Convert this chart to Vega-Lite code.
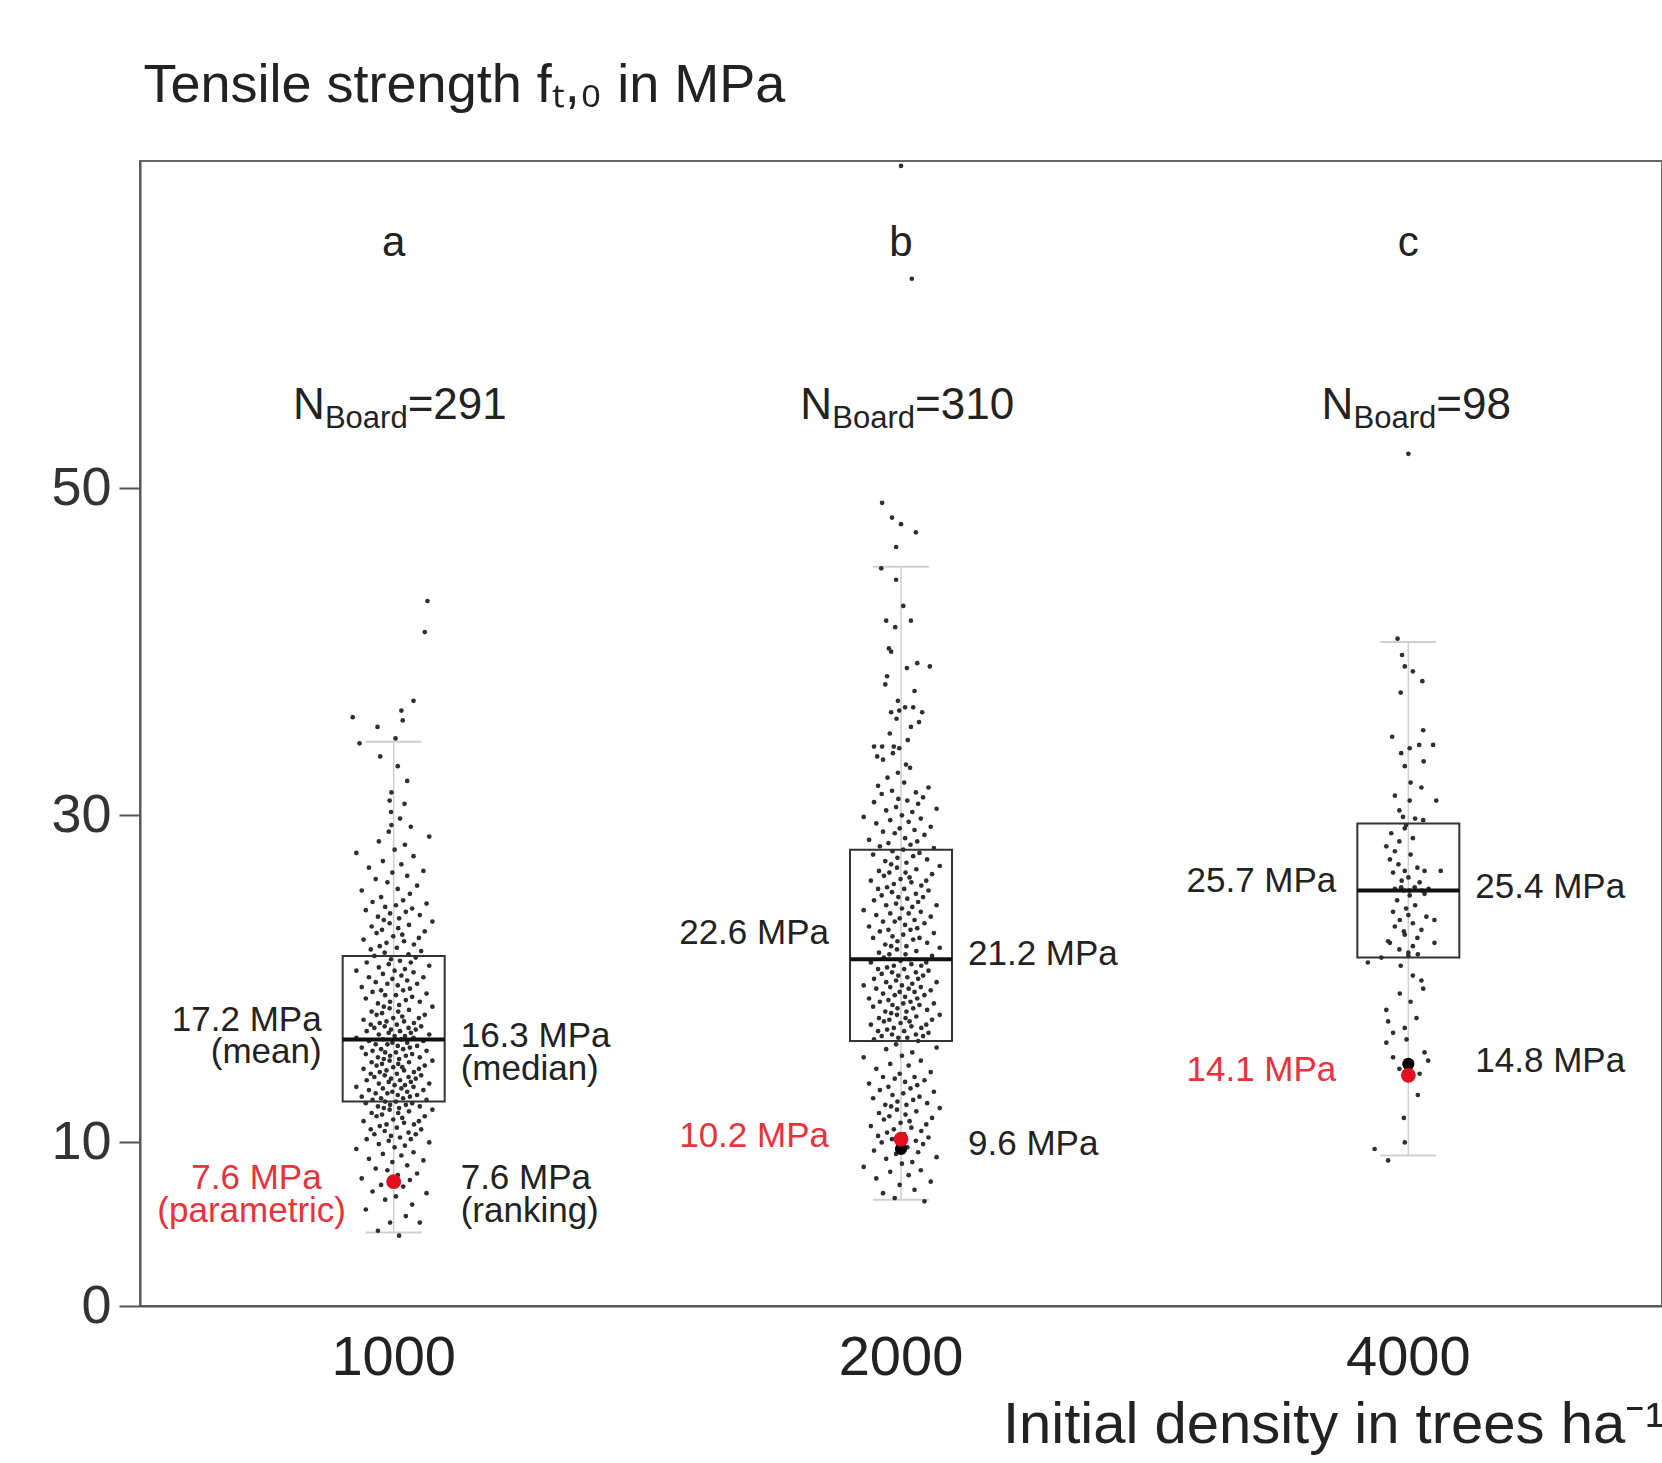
{
"$schema":"https://vega.github.io/schema/vega-lite/v6.json",
"autosize":"none",
"width":1522,"height":1145,
"padding":{"left":140,"top":161,"right":0,"bottom":157},
"background":"white",
"config":{"view":{"stroke":"#666","strokeWidth":2},"font":"Liberation Sans","text":{"font":"Liberation Sans"},"axis":{"labelFont":"Liberation Sans","titleFont":"Liberation Sans"}},
"datasets":{
"box":[{"g":"1000","wlo":4.5,"q1":12.5,"med":16.3,"q3":21.4,"whi":34.5},{"g":"2000","wlo":6.5,"q1":16.2,"med":21.2,"q3":27.9,"whi":45.2},{"g":"4000","wlo":9.2,"q1":21.3,"med":25.4,"q3":29.5,"whi":40.6}],
"est":[{"g":"1000","par":7.6,"rank":7.6},{"g":"2000","par":10.2,"rank":9.6},{"g":"4000","par":14.1,"rank":14.8}],
"grp":[{"g":"1000","l":"a","n":"=291"},{"g":"2000","l":"b","n":"=310"},{"g":"4000","l":"c","n":"=98"}],
"ann":[
{"g":"1000","stat":"mean","v":17.5,"t":"17.2 MPa"},{"g":"1000","stat":"mean","v":15.5,"t":"(mean)"},
{"g":"1000","stat":"median","v":16.5,"t":"16.3 MPa"},{"g":"1000","stat":"median","v":14.5,"t":"(median)"},
{"g":"1000","stat":"parametric","v":7.8,"t":"7.6 MPa"},{"g":"1000","stat":"parametric","v":5.8,"t":"(parametric)"},
{"g":"1000","stat":"ranking","v":7.8,"t":"7.6 MPa"},{"g":"1000","stat":"ranking","v":5.8,"t":"(ranking)"},
{"g":"2000","stat":"mean","v":22.8,"t":"22.6 MPa"},{"g":"2000","stat":"median","v":21.5,"t":"21.2 MPa"},
{"g":"2000","stat":"parametric","v":10.4,"t":"10.2 MPa"},{"g":"2000","stat":"ranking","v":9.9,"t":"9.6 MPa"},
{"g":"4000","stat":"mean","v":26.0,"t":"25.7 MPa"},{"g":"4000","stat":"median","v":25.6,"t":"25.4 MPa"},
{"g":"4000","stat":"parametric","v":14.4,"t":"14.1 MPa"},{"g":"4000","stat":"ranking","v":15.0,"t":"14.8 MPa"}],
"pts":[
{"g":"1000","v":4.3,"j":0.12},{"g":"1000","v":4.6,"j":-0.35},{"g":"1000","v":5.1,"j":0.58},{"g":"1000","v":5.1,"j":-0.08},{"g":"1000","v":5.5,"j":0.27},{"g":"1000","v":5.9,"j":-0.62},{"g":"1000","v":6.2,"j":0.41},{"g":"1000","v":6.5,"j":-0.19},{"g":"1000","v":6.7,"j":0.05},{"g":"1000","v":6.9,"j":0.73},
{"g":"1000","v":7.0,"j":-0.47},{"g":"1000","v":7.3,"j":0.21},{"g":"1000","v":7.4,"j":-0.28},{"g":"1000","v":7.7,"j":0.36},{"g":"1000","v":7.8,"j":-0.71},{"g":"1000","v":8.0,"j":0.09},{"g":"1000","v":8.1,"j":0.52},{"g":"1000","v":8.3,"j":-0.14},{"g":"1000","v":8.4,"j":-0.40},{"g":"1000","v":8.6,"j":0.30},
{"g":"1000","v":8.8,"j":-0.03},{"g":"1000","v":8.9,"j":0.66},{"g":"1000","v":9.0,"j":-0.55},{"g":"1000","v":9.2,"j":0.17},{"g":"1000","v":9.3,"j":-0.24},{"g":"1000","v":9.4,"j":0.44},{"g":"1000","v":9.6,"j":-0.83},{"g":"1000","v":9.7,"j":0.02},{"g":"1000","v":9.8,"j":0.25},{"g":"1000","v":9.9,"j":-0.33},
{"g":"1000","v":10.0,"j":0.79},{"g":"1000","v":10.1,"j":-0.11},{"g":"1000","v":10.2,"j":0.38},{"g":"1000","v":10.2,"j":-0.60},{"g":"1000","v":10.3,"j":0.14},{"g":"1000","v":10.4,"j":-0.06},{"g":"1000","v":10.5,"j":0.49},{"g":"1000","v":10.5,"j":-0.43},{"g":"1000","v":10.6,"j":0.33},{"g":"1000","v":10.7,"j":-0.20},
{"g":"1000","v":10.8,"j":0.61},{"g":"1000","v":10.8,"j":-0.51},{"g":"1000","v":10.9,"j":0.07},{"g":"1000","v":11.0,"j":-0.31},{"g":"1000","v":11.1,"j":0.45},{"g":"1000","v":11.1,"j":-0.16},{"g":"1000","v":11.2,"j":0.23},{"g":"1000","v":11.3,"j":-0.67},{"g":"1000","v":11.3,"j":0.56},{"g":"1000","v":11.4,"j":-0.01},
{"g":"1000","v":11.5,"j":0.19},{"g":"1000","v":11.6,"j":-0.38},{"g":"1000","v":11.6,"j":0.69},{"g":"1000","v":11.7,"j":-0.26},{"g":"1000","v":11.8,"j":0.10},{"g":"1000","v":11.8,"j":-0.49},{"g":"1000","v":11.9,"j":0.34},{"g":"1000","v":12.0,"j":-0.09},{"g":"1000","v":12.0,"j":0.86},{"g":"1000","v":12.1,"j":-0.22},
{"g":"1000","v":12.1,"j":0.12},{"g":"1000","v":12.2,"j":-0.35},{"g":"1000","v":12.2,"j":0.58},{"g":"1000","v":12.3,"j":-0.08},{"g":"1000","v":12.3,"j":0.27},{"g":"1000","v":12.4,"j":-0.62},{"g":"1000","v":12.4,"j":0.41},{"g":"1000","v":12.5,"j":-0.19},{"g":"1000","v":12.5,"j":0.05},{"g":"1000","v":12.6,"j":0.73},
{"g":"1000","v":12.6,"j":-0.47},{"g":"1000","v":12.7,"j":0.21},{"g":"1000","v":12.7,"j":-0.28},{"g":"1000","v":12.8,"j":0.36},{"g":"1000","v":12.8,"j":-0.71},{"g":"1000","v":12.9,"j":0.09},{"g":"1000","v":12.9,"j":0.52},{"g":"1000","v":13.0,"j":-0.14},{"g":"1000","v":13.0,"j":-0.40},{"g":"1000","v":13.1,"j":0.30},
{"g":"1000","v":13.1,"j":-0.03},{"g":"1000","v":13.2,"j":0.66},{"g":"1000","v":13.2,"j":-0.55},{"g":"1000","v":13.3,"j":0.17},{"g":"1000","v":13.3,"j":-0.24},{"g":"1000","v":13.4,"j":0.44},{"g":"1000","v":13.4,"j":-0.83},{"g":"1000","v":13.5,"j":0.02},{"g":"1000","v":13.5,"j":0.25},{"g":"1000","v":13.6,"j":-0.33},
{"g":"1000","v":13.6,"j":0.79},{"g":"1000","v":13.7,"j":-0.11},{"g":"1000","v":13.7,"j":0.38},{"g":"1000","v":13.8,"j":-0.60},{"g":"1000","v":13.8,"j":0.14},{"g":"1000","v":13.9,"j":-0.06},{"g":"1000","v":13.9,"j":0.49},{"g":"1000","v":14.0,"j":-0.43},{"g":"1000","v":14.0,"j":0.33},{"g":"1000","v":14.1,"j":-0.20},
{"g":"1000","v":14.1,"j":0.61},{"g":"1000","v":14.2,"j":-0.51},{"g":"1000","v":14.2,"j":0.07},{"g":"1000","v":14.3,"j":-0.31},{"g":"1000","v":14.3,"j":0.45},{"g":"1000","v":14.4,"j":-0.16},{"g":"1000","v":14.4,"j":0.23},{"g":"1000","v":14.5,"j":-0.67},{"g":"1000","v":14.5,"j":0.56},{"g":"1000","v":14.6,"j":-0.01},
{"g":"1000","v":14.6,"j":0.19},{"g":"1000","v":14.7,"j":-0.38},{"g":"1000","v":14.7,"j":0.69},{"g":"1000","v":14.8,"j":-0.26},{"g":"1000","v":14.8,"j":0.10},{"g":"1000","v":14.9,"j":-0.49},{"g":"1000","v":14.9,"j":0.34},{"g":"1000","v":15.0,"j":-0.09},{"g":"1000","v":15.0,"j":0.86},{"g":"1000","v":15.1,"j":-0.22},
{"g":"1000","v":15.1,"j":0.12},{"g":"1000","v":15.2,"j":-0.35},{"g":"1000","v":15.2,"j":0.58},{"g":"1000","v":15.3,"j":-0.08},{"g":"1000","v":15.3,"j":0.27},{"g":"1000","v":15.4,"j":-0.62},{"g":"1000","v":15.4,"j":0.41},{"g":"1000","v":15.5,"j":-0.19},{"g":"1000","v":15.5,"j":0.05},{"g":"1000","v":15.6,"j":0.73},
{"g":"1000","v":15.6,"j":-0.47},{"g":"1000","v":15.7,"j":0.21},{"g":"1000","v":15.7,"j":-0.28},{"g":"1000","v":15.8,"j":0.36},{"g":"1000","v":15.8,"j":-0.71},{"g":"1000","v":15.9,"j":0.09},{"g":"1000","v":15.9,"j":0.52},{"g":"1000","v":16.0,"j":-0.14},{"g":"1000","v":16.0,"j":-0.40},{"g":"1000","v":16.1,"j":0.30},
{"g":"1000","v":16.1,"j":-0.03},{"g":"1000","v":16.2,"j":0.66},{"g":"1000","v":16.2,"j":-0.55},{"g":"1000","v":16.3,"j":0.17},{"g":"1000","v":16.3,"j":-0.24},{"g":"1000","v":16.4,"j":0.44},{"g":"1000","v":16.4,"j":-0.83},{"g":"1000","v":16.5,"j":0.02},{"g":"1000","v":16.5,"j":0.25},{"g":"1000","v":16.6,"j":-0.33},
{"g":"1000","v":16.6,"j":0.79},{"g":"1000","v":16.7,"j":-0.11},{"g":"1000","v":16.7,"j":0.38},{"g":"1000","v":16.8,"j":-0.60},{"g":"1000","v":16.8,"j":0.14},{"g":"1000","v":16.9,"j":-0.06},{"g":"1000","v":16.9,"j":0.49},{"g":"1000","v":17.0,"j":-0.43},{"g":"1000","v":17.0,"j":0.33},{"g":"1000","v":17.1,"j":-0.20},
{"g":"1000","v":17.1,"j":0.61},{"g":"1000","v":17.2,"j":-0.51},{"g":"1000","v":17.2,"j":0.07},{"g":"1000","v":17.3,"j":-0.31},{"g":"1000","v":17.3,"j":0.45},{"g":"1000","v":17.4,"j":-0.16},{"g":"1000","v":17.4,"j":0.23},{"g":"1000","v":17.5,"j":-0.67},{"g":"1000","v":17.6,"j":0.56},{"g":"1000","v":17.6,"j":-0.01},
{"g":"1000","v":17.7,"j":0.19},{"g":"1000","v":17.8,"j":-0.38},{"g":"1000","v":17.8,"j":0.69},{"g":"1000","v":17.9,"j":-0.26},{"g":"1000","v":18.0,"j":0.10},{"g":"1000","v":18.0,"j":-0.49},{"g":"1000","v":18.1,"j":0.34},{"g":"1000","v":18.2,"j":-0.09},{"g":"1000","v":18.3,"j":0.86},{"g":"1000","v":18.3,"j":-0.22},
{"g":"1000","v":18.4,"j":0.12},{"g":"1000","v":18.5,"j":-0.35},{"g":"1000","v":18.6,"j":0.58},{"g":"1000","v":18.6,"j":-0.08},{"g":"1000","v":18.7,"j":0.27},{"g":"1000","v":18.8,"j":-0.62},{"g":"1000","v":18.9,"j":0.41},{"g":"1000","v":19.0,"j":-0.19},{"g":"1000","v":19.0,"j":0.05},{"g":"1000","v":19.1,"j":0.73},
{"g":"1000","v":19.2,"j":-0.47},{"g":"1000","v":19.3,"j":0.21},{"g":"1000","v":19.3,"j":-0.28},{"g":"1000","v":19.4,"j":0.36},{"g":"1000","v":19.5,"j":-0.71},{"g":"1000","v":19.6,"j":0.09},{"g":"1000","v":19.7,"j":0.52},{"g":"1000","v":19.7,"j":-0.14},{"g":"1000","v":19.8,"j":-0.40},{"g":"1000","v":19.9,"j":0.30},
{"g":"1000","v":20.0,"j":-0.03},{"g":"1000","v":20.1,"j":0.66},{"g":"1000","v":20.1,"j":-0.55},{"g":"1000","v":20.2,"j":0.17},{"g":"1000","v":20.3,"j":-0.24},{"g":"1000","v":20.4,"j":0.44},{"g":"1000","v":20.5,"j":-0.83},{"g":"1000","v":20.5,"j":0.02},{"g":"1000","v":20.6,"j":0.25},{"g":"1000","v":20.7,"j":-0.33},
{"g":"1000","v":20.8,"j":0.79},{"g":"1000","v":20.9,"j":-0.11},{"g":"1000","v":21.0,"j":0.38},{"g":"1000","v":21.0,"j":-0.60},{"g":"1000","v":21.1,"j":0.14},{"g":"1000","v":21.2,"j":-0.06},{"g":"1000","v":21.3,"j":0.49},{"g":"1000","v":21.4,"j":-0.43},{"g":"1000","v":21.5,"j":0.33},{"g":"1000","v":21.6,"j":-0.20},
{"g":"1000","v":21.7,"j":0.61},{"g":"1000","v":21.8,"j":-0.51},{"g":"1000","v":21.9,"j":0.07},{"g":"1000","v":22.0,"j":-0.31},{"g":"1000","v":22.1,"j":0.45},{"g":"1000","v":22.2,"j":-0.16},{"g":"1000","v":22.3,"j":0.23},{"g":"1000","v":22.4,"j":-0.67},{"g":"1000","v":22.5,"j":0.56},{"g":"1000","v":22.6,"j":-0.01},
{"g":"1000","v":22.7,"j":0.19},{"g":"1000","v":22.8,"j":-0.38},{"g":"1000","v":22.9,"j":0.69},{"g":"1000","v":23.0,"j":-0.26},{"g":"1000","v":23.1,"j":0.10},{"g":"1000","v":23.2,"j":-0.49},{"g":"1000","v":23.3,"j":0.34},{"g":"1000","v":23.4,"j":-0.09},{"g":"1000","v":23.5,"j":0.86},{"g":"1000","v":23.6,"j":-0.22},
{"g":"1000","v":23.7,"j":0.12},{"g":"1000","v":23.8,"j":-0.35},{"g":"1000","v":23.9,"j":0.58},{"g":"1000","v":24.0,"j":-0.08},{"g":"1000","v":24.1,"j":0.27},{"g":"1000","v":24.2,"j":-0.62},{"g":"1000","v":24.3,"j":0.41},{"g":"1000","v":24.4,"j":-0.19},{"g":"1000","v":24.5,"j":0.05},{"g":"1000","v":24.6,"j":0.73},
{"g":"1000","v":24.7,"j":-0.47},{"g":"1000","v":24.8,"j":0.21},{"g":"1000","v":25.0,"j":-0.28},{"g":"1000","v":25.2,"j":0.36},{"g":"1000","v":25.4,"j":-0.71},{"g":"1000","v":25.5,"j":0.09},{"g":"1000","v":25.7,"j":0.52},{"g":"1000","v":25.9,"j":-0.14},{"g":"1000","v":26.1,"j":-0.40},{"g":"1000","v":26.3,"j":0.30},
{"g":"1000","v":26.5,"j":-0.03},{"g":"1000","v":26.6,"j":0.66},{"g":"1000","v":26.8,"j":-0.55},{"g":"1000","v":27.0,"j":0.17},{"g":"1000","v":27.2,"j":-0.24},{"g":"1000","v":27.5,"j":0.44},{"g":"1000","v":27.7,"j":-0.83},{"g":"1000","v":27.9,"j":0.02},{"g":"1000","v":28.2,"j":0.25},{"g":"1000","v":28.4,"j":-0.33},
{"g":"1000","v":28.7,"j":0.79},{"g":"1000","v":29.0,"j":-0.11},{"g":"1000","v":29.3,"j":0.38},{"g":"1000","v":29.4,"j":-0.05},{"g":"1000","v":29.8,"j":0.14},
{"g":"1000","v":30.2,"j":-0.06},{"g":"1000","v":30.7,"j":0.24},{"g":"1000","v":30.9,"j":-0.09},{"g":"1000","v":31.4,"j":-0.05},{"g":"1000","v":32.1,"j":0.3},{"g":"1000","v":33.0,"j":0.09},{"g":"1000","v":33.6,"j":-0.3},{"g":"1000","v":34.4,"j":-0.76},
{"g":"1000","v":34.7,"j":0.04},{"g":"1000","v":35.4,"j":-0.36},{"g":"1000","v":35.8,"j":0.2},{"g":"1000","v":36.0,"j":-0.91},{"g":"1000","v":36.4,"j":0.17},{"g":"1000","v":37.0,"j":0.44},{"g":"1000","v":41.2,"j":0.69},{"g":"1000","v":43.1,"j":0.75},
{"g":"2000","v":6.4,"j":0.52},{"g":"2000","v":6.6,"j":-0.14},{"g":"2000","v":6.9,"j":-0.40},{"g":"2000","v":7.1,"j":0.30},{"g":"2000","v":7.4,"j":-0.03},{"g":"2000","v":7.6,"j":0.66},{"g":"2000","v":7.8,"j":-0.55},{"g":"2000","v":8.0,"j":0.17},{"g":"2000","v":8.2,"j":-0.24},{"g":"2000","v":8.3,"j":0.44},
{"g":"2000","v":8.5,"j":-0.83},{"g":"2000","v":8.7,"j":0.02},{"g":"2000","v":8.8,"j":0.25},{"g":"2000","v":9.0,"j":-0.33},{"g":"2000","v":9.1,"j":0.79},{"g":"2000","v":9.3,"j":-0.11},{"g":"2000","v":9.4,"j":0.38},{"g":"2000","v":9.5,"j":-0.60},{"g":"2000","v":9.7,"j":0.14},{"g":"2000","v":9.8,"j":-0.06},
{"g":"2000","v":9.9,"j":0.49},{"g":"2000","v":10.0,"j":-0.43},{"g":"2000","v":10.1,"j":0.33},{"g":"2000","v":10.2,"j":-0.20},{"g":"2000","v":10.3,"j":0.61},{"g":"2000","v":10.4,"j":-0.51},{"g":"2000","v":10.5,"j":0.07},{"g":"2000","v":10.6,"j":-0.31},{"g":"2000","v":10.7,"j":0.45},{"g":"2000","v":10.8,"j":-0.16},
{"g":"2000","v":10.9,"j":0.23},{"g":"2000","v":11.0,"j":-0.67},{"g":"2000","v":11.1,"j":0.56},{"g":"2000","v":11.2,"j":-0.01},{"g":"2000","v":11.3,"j":0.19},{"g":"2000","v":11.4,"j":-0.38},{"g":"2000","v":11.5,"j":0.69},{"g":"2000","v":11.6,"j":-0.26},{"g":"2000","v":11.7,"j":0.10},{"g":"2000","v":11.8,"j":-0.49},
{"g":"2000","v":11.9,"j":0.34},{"g":"2000","v":12.0,"j":-0.09},{"g":"2000","v":12.1,"j":0.86},{"g":"2000","v":12.2,"j":-0.22},{"g":"2000","v":12.3,"j":0.12},{"g":"2000","v":12.3,"j":-0.35},{"g":"2000","v":12.4,"j":0.58},{"g":"2000","v":12.5,"j":-0.08},{"g":"2000","v":12.6,"j":0.27},{"g":"2000","v":12.7,"j":-0.62},
{"g":"2000","v":12.8,"j":0.41},{"g":"2000","v":12.9,"j":-0.19},{"g":"2000","v":13.0,"j":0.05},{"g":"2000","v":13.1,"j":0.73},{"g":"2000","v":13.2,"j":-0.47},{"g":"2000","v":13.3,"j":0.21},{"g":"2000","v":13.4,"j":-0.28},{"g":"2000","v":13.5,"j":0.36},{"g":"2000","v":13.6,"j":-0.71},{"g":"2000","v":13.7,"j":0.09},
{"g":"2000","v":13.8,"j":0.52},{"g":"2000","v":13.9,"j":-0.14},{"g":"2000","v":14.0,"j":-0.40},{"g":"2000","v":14.0,"j":0.30},{"g":"2000","v":14.2,"j":-0.03},{"g":"2000","v":14.3,"j":0.66},{"g":"2000","v":14.5,"j":-0.55},{"g":"2000","v":14.7,"j":0.17},{"g":"2000","v":14.8,"j":-0.24},{"g":"2000","v":15.0,"j":0.44},
{"g":"2000","v":15.2,"j":-0.83},{"g":"2000","v":15.3,"j":0.02},{"g":"2000","v":15.5,"j":0.25},{"g":"2000","v":15.7,"j":-0.33},{"g":"2000","v":15.8,"j":0.79},{"g":"2000","v":16.0,"j":-0.11},{"g":"2000","v":16.2,"j":0.38},{"g":"2000","v":16.3,"j":-0.60},{"g":"2000","v":16.4,"j":0.14},{"g":"2000","v":16.4,"j":-0.06},
{"g":"2000","v":16.5,"j":0.49},{"g":"2000","v":16.5,"j":-0.43},{"g":"2000","v":16.6,"j":0.33},{"g":"2000","v":16.6,"j":-0.20},{"g":"2000","v":16.7,"j":0.61},{"g":"2000","v":16.8,"j":-0.51},{"g":"2000","v":16.8,"j":0.07},{"g":"2000","v":16.9,"j":-0.31},{"g":"2000","v":17.0,"j":0.45},{"g":"2000","v":17.0,"j":-0.16},
{"g":"2000","v":17.1,"j":0.23},{"g":"2000","v":17.2,"j":-0.67},{"g":"2000","v":17.2,"j":0.56},{"g":"2000","v":17.3,"j":-0.01},{"g":"2000","v":17.4,"j":0.19},{"g":"2000","v":17.4,"j":-0.38},{"g":"2000","v":17.5,"j":0.69},{"g":"2000","v":17.5,"j":-0.26},{"g":"2000","v":17.6,"j":0.10},{"g":"2000","v":17.6,"j":-0.49},
{"g":"2000","v":17.7,"j":0.34},{"g":"2000","v":17.8,"j":-0.09},{"g":"2000","v":17.8,"j":0.86},{"g":"2000","v":17.9,"j":-0.22},{"g":"2000","v":18.0,"j":0.12},{"g":"2000","v":18.0,"j":-0.35},{"g":"2000","v":18.1,"j":0.58},{"g":"2000","v":18.2,"j":-0.08},{"g":"2000","v":18.2,"j":0.27},{"g":"2000","v":18.3,"j":-0.62},
{"g":"2000","v":18.4,"j":0.41},{"g":"2000","v":18.4,"j":-0.19},{"g":"2000","v":18.5,"j":0.05},{"g":"2000","v":18.5,"j":0.73},{"g":"2000","v":18.6,"j":-0.47},{"g":"2000","v":18.6,"j":0.21},{"g":"2000","v":18.7,"j":-0.28},{"g":"2000","v":18.8,"j":0.36},{"g":"2000","v":18.8,"j":-0.71},{"g":"2000","v":18.9,"j":0.09},
{"g":"2000","v":19.0,"j":0.52},{"g":"2000","v":19.0,"j":-0.14},{"g":"2000","v":19.1,"j":-0.40},{"g":"2000","v":19.2,"j":0.30},{"g":"2000","v":19.2,"j":-0.03},{"g":"2000","v":19.3,"j":0.66},{"g":"2000","v":19.4,"j":-0.55},{"g":"2000","v":19.4,"j":0.17},{"g":"2000","v":19.5,"j":-0.24},{"g":"2000","v":19.5,"j":0.44},
{"g":"2000","v":19.6,"j":-0.83},{"g":"2000","v":19.6,"j":0.02},{"g":"2000","v":19.7,"j":0.25},{"g":"2000","v":19.8,"j":-0.33},{"g":"2000","v":19.8,"j":0.79},{"g":"2000","v":19.9,"j":-0.11},{"g":"2000","v":20.0,"j":0.38},{"g":"2000","v":20.0,"j":-0.60},{"g":"2000","v":20.1,"j":0.14},{"g":"2000","v":20.2,"j":-0.06},
{"g":"2000","v":20.2,"j":0.49},{"g":"2000","v":20.3,"j":-0.43},{"g":"2000","v":20.4,"j":0.33},{"g":"2000","v":20.4,"j":-0.20},{"g":"2000","v":20.5,"j":0.61},{"g":"2000","v":20.6,"j":-0.51},{"g":"2000","v":20.6,"j":0.07},{"g":"2000","v":20.7,"j":-0.31},{"g":"2000","v":20.8,"j":0.45},{"g":"2000","v":20.8,"j":-0.16},
{"g":"2000","v":20.9,"j":0.23},{"g":"2000","v":21.0,"j":-0.67},{"g":"2000","v":21.0,"j":0.56},{"g":"2000","v":21.1,"j":-0.01},{"g":"2000","v":21.2,"j":0.19},{"g":"2000","v":21.3,"j":-0.38},{"g":"2000","v":21.4,"j":0.69},{"g":"2000","v":21.5,"j":-0.26},{"g":"2000","v":21.5,"j":0.10},{"g":"2000","v":21.6,"j":-0.49},
{"g":"2000","v":21.7,"j":0.34},{"g":"2000","v":21.8,"j":-0.09},{"g":"2000","v":21.9,"j":0.86},{"g":"2000","v":22.0,"j":-0.22},{"g":"2000","v":22.0,"j":0.12},{"g":"2000","v":22.1,"j":-0.35},{"g":"2000","v":22.2,"j":0.58},{"g":"2000","v":22.3,"j":-0.08},{"g":"2000","v":22.4,"j":0.27},{"g":"2000","v":22.5,"j":-0.62},
{"g":"2000","v":22.5,"j":0.41},{"g":"2000","v":22.6,"j":-0.19},{"g":"2000","v":22.7,"j":0.05},{"g":"2000","v":22.8,"j":0.73},{"g":"2000","v":22.9,"j":-0.47},{"g":"2000","v":23.0,"j":0.21},{"g":"2000","v":23.0,"j":-0.28},{"g":"2000","v":23.1,"j":0.36},{"g":"2000","v":23.2,"j":-0.71},{"g":"2000","v":23.3,"j":0.09},
{"g":"2000","v":23.4,"j":0.52},{"g":"2000","v":23.5,"j":-0.14},{"g":"2000","v":23.5,"j":-0.40},{"g":"2000","v":23.6,"j":0.30},{"g":"2000","v":23.7,"j":-0.03},{"g":"2000","v":23.8,"j":0.66},{"g":"2000","v":23.9,"j":-0.55},{"g":"2000","v":24.0,"j":0.17},{"g":"2000","v":24.0,"j":-0.24},{"g":"2000","v":24.1,"j":0.44},
{"g":"2000","v":24.2,"j":-0.83},{"g":"2000","v":24.3,"j":0.02},{"g":"2000","v":24.4,"j":0.25},{"g":"2000","v":24.5,"j":-0.33},{"g":"2000","v":24.5,"j":0.79},{"g":"2000","v":24.6,"j":-0.11},{"g":"2000","v":24.7,"j":0.38},{"g":"2000","v":24.8,"j":-0.60},{"g":"2000","v":24.9,"j":0.14},{"g":"2000","v":25.0,"j":-0.06},
{"g":"2000","v":25.0,"j":0.49},{"g":"2000","v":25.1,"j":-0.43},{"g":"2000","v":25.2,"j":0.33},{"g":"2000","v":25.3,"j":-0.20},{"g":"2000","v":25.4,"j":0.61},{"g":"2000","v":25.5,"j":-0.51},{"g":"2000","v":25.5,"j":0.07},{"g":"2000","v":25.6,"j":-0.31},{"g":"2000","v":25.7,"j":0.45},{"g":"2000","v":25.8,"j":-0.16},
{"g":"2000","v":25.9,"j":0.23},{"g":"2000","v":26.0,"j":-0.67},{"g":"2000","v":26.0,"j":0.56},{"g":"2000","v":26.1,"j":-0.01},{"g":"2000","v":26.2,"j":0.19},{"g":"2000","v":26.3,"j":-0.38},{"g":"2000","v":26.4,"j":0.69},{"g":"2000","v":26.5,"j":-0.26},{"g":"2000","v":26.5,"j":0.10},{"g":"2000","v":26.6,"j":-0.49},
{"g":"2000","v":26.7,"j":0.34},{"g":"2000","v":26.8,"j":-0.09},{"g":"2000","v":26.9,"j":0.86},{"g":"2000","v":27.0,"j":-0.22},{"g":"2000","v":27.1,"j":0.12},{"g":"2000","v":27.2,"j":-0.35},{"g":"2000","v":27.3,"j":0.58},{"g":"2000","v":27.4,"j":-0.08},{"g":"2000","v":27.5,"j":0.27},{"g":"2000","v":27.6,"j":-0.62},
{"g":"2000","v":27.7,"j":0.41},{"g":"2000","v":27.8,"j":-0.19},{"g":"2000","v":27.9,"j":0.05},{"g":"2000","v":28.0,"j":0.73},{"g":"2000","v":28.1,"j":-0.47},{"g":"2000","v":28.2,"j":0.21},{"g":"2000","v":28.3,"j":-0.28},{"g":"2000","v":28.4,"j":0.36},{"g":"2000","v":28.5,"j":-0.71},{"g":"2000","v":28.6,"j":0.09},
{"g":"2000","v":28.8,"j":0.52},{"g":"2000","v":28.9,"j":-0.14},{"g":"2000","v":29.0,"j":-0.40},{"g":"2000","v":29.1,"j":0.30},{"g":"2000","v":29.2,"j":-0.03},{"g":"2000","v":29.3,"j":0.66},{"g":"2000","v":29.5,"j":-0.55},{"g":"2000","v":29.6,"j":0.17},{"g":"2000","v":29.7,"j":-0.24},{"g":"2000","v":29.8,"j":0.44},
{"g":"2000","v":29.9,"j":-0.83},{"g":"2000","v":30.0,"j":0.02},{"g":"2000","v":30.2,"j":0.25},{"g":"2000","v":30.3,"j":-0.33},{"g":"2000","v":30.4,"j":0.79},{"g":"2000","v":30.5,"j":-0.11},{"g":"2000","v":30.7,"j":0.38},{"g":"2000","v":30.8,"j":-0.60},{"g":"2000","v":30.9,"j":0.14},{"g":"2000","v":31.0,"j":-0.06},
{"g":"2000","v":31.1,"j":0.49},{"g":"2000","v":31.3,"j":-0.43},{"g":"2000","v":31.4,"j":0.33},{"g":"2000","v":31.5,"j":-0.20},{"g":"2000","v":31.7,"j":0.61},{"g":"2000","v":31.8,"j":-0.51},{"g":"2000","v":32.0,"j":0.07},
{"g":"2000","v":32.3,"j":-0.3},{"g":"2000","v":32.6,"j":-0.07},{"g":"2000","v":32.9,"j":0.2},{"g":"2000","v":33.1,"j":0.11},{"g":"2000","v":33.4,"j":-0.4},{"g":"2000","v":33.6,"j":-0.53},{"g":"2000","v":33.8,"j":-0.18},{"g":"2000","v":34.1,"j":-0.04},{"g":"2000","v":34.2,"j":-0.6},{"g":"2000","v":34.2,"j":-0.42},
{"g":"2000","v":34.2,"j":-0.16},{"g":"2000","v":34.6,"j":0.15},{"g":"2000","v":35.0,"j":-0.25},{"g":"2000","v":35.4,"j":0.22},{"g":"2000","v":35.7,"j":0.4},{"g":"2000","v":35.9,"j":-0.1},{"g":"2000","v":36.3,"j":-0.22},{"g":"2000","v":36.3,"j":0.47},{"g":"2000","v":36.4,"j":-0.04},{"g":"2000","v":36.6,"j":0.09},
{"g":"2000","v":36.6,"j":0.27},{"g":"2000","v":37.0,"j":-0.07},{"g":"2000","v":37.6,"j":0.3},{"g":"2000","v":38.0,"j":-0.35},{"g":"2000","v":38.5,"j":-0.31},{"g":"2000","v":39.0,"j":0.13},{"g":"2000","v":39.1,"j":0.64},{"g":"2000","v":39.3,"j":0.36},{"g":"2000","v":40.0,"j":-0.22},{"g":"2000","v":40.2,"j":-0.27},
{"g":"2000","v":41.5,"j":-0.13},{"g":"2000","v":41.9,"j":-0.33},{"g":"2000","v":41.9,"j":0.22},{"g":"2000","v":42.8,"j":0.05},{"g":"2000","v":44.4,"j":-0.11},{"g":"2000","v":45.1,"j":-0.44},{"g":"2000","v":46.4,"j":-0.11},{"g":"2000","v":47.3,"j":0.33},{"g":"2000","v":47.8,"j":0.0},{"g":"2000","v":48.2,"j":-0.2},
{"g":"2000","v":49.1,"j":-0.42},{"g":"2000","v":62.8,"j":0.24},{"g":"2000","v":69.7,"j":0.0},
{"g":"4000","v":52.1,"j":0.0},{"g":"4000","v":40.8,"j":-0.24},{"g":"4000","v":39.8,"j":-0.14},{"g":"4000","v":39.1,"j":-0.08},{"g":"4000","v":38.8,"j":0.1},{"g":"4000","v":38.2,"j":0.31},{"g":"4000","v":37.5,"j":-0.17},{"g":"4000","v":35.2,"j":0.33},{"g":"4000","v":34.8,"j":-0.36},{"g":"4000","v":34.3,"j":0.24},
{"g":"4000","v":34.3,"j":0.55},{"g":"4000","v":34.1,"j":0.03},{"g":"4000","v":33.8,"j":-0.16},{"g":"4000","v":33.3,"j":0.34},{"g":"4000","v":33.0,"j":-0.08},{"g":"4000","v":32.0,"j":0.05},{"g":"4000","v":31.7,"j":0.29},{"g":"4000","v":31.2,"j":-0.3},{"g":"4000","v":30.9,"j":0.03},{"g":"4000","v":30.9,"j":0.62},
{"g":"4000","v":30.3,"j":-0.2},{"g":"4000","v":29.9,"j":-0.12},{"g":"4000","v":29.8,"j":0.15},{"g":"4000","v":29.7,"j":0.33},
{"g":"4000","v":29.4,"j":-0.05},{"g":"4000","v":29.2,"j":-0.08},{"g":"4000","v":28.9,"j":-0.38},{"g":"4000","v":28.6,"j":0.1},{"g":"4000","v":28.4,"j":-0.2},{"g":"4000","v":28.1,"j":-0.49},{"g":"4000","v":27.8,"j":-0.3},{"g":"4000","v":27.6,"j":0.05},{"g":"4000","v":27.3,"j":-0.41},{"g":"4000","v":27.0,"j":-0.22},
{"g":"4000","v":26.8,"j":0.2},{"g":"4000","v":26.6,"j":-0.08},{"g":"4000","v":26.6,"j":0.36},{"g":"4000","v":26.6,"j":0.72},{"g":"4000","v":26.5,"j":-0.34},{"g":"4000","v":26.2,"j":0.0},{"g":"4000","v":26.0,"j":-0.15},{"g":"4000","v":25.9,"j":0.25},{"g":"4000","v":25.6,"j":-0.16},{"g":"4000","v":25.6,"j":0.14},
{"g":"4000","v":25.5,"j":-0.3},{"g":"4000","v":25.5,"j":0.45},{"g":"4000","v":25.4,"j":0.02},{"g":"4000","v":25.4,"j":-0.1},{"g":"4000","v":25.4,"j":0.3},
{"g":"4000","v":25.2,"j":0.36},{"g":"4000","v":25.1,"j":0.03},{"g":"4000","v":24.8,"j":-0.25},{"g":"4000","v":24.5,"j":0.15},{"g":"4000","v":24.3,"j":-0.05},{"g":"4000","v":24.1,"j":-0.34},{"g":"4000","v":23.9,"j":0.0},{"g":"4000","v":23.8,"j":0.4},{"g":"4000","v":23.6,"j":-0.19},{"g":"4000","v":23.6,"j":0.58},
{"g":"4000","v":23.4,"j":0.1},{"g":"4000","v":23.2,"j":-0.3},{"g":"4000","v":23.0,"j":0.29},{"g":"4000","v":22.9,"j":-0.1},{"g":"4000","v":22.7,"j":-0.08},{"g":"4000","v":22.5,"j":0.2},{"g":"4000","v":22.3,"j":-0.45},{"g":"4000","v":22.2,"j":-0.41},{"g":"4000","v":22.2,"j":0.58},{"g":"4000","v":22.0,"j":0.1},
{"g":"4000","v":21.8,"j":-0.2},{"g":"4000","v":21.6,"j":0.0},{"g":"4000","v":21.5,"j":0.21},{"g":"4000","v":21.4,"j":0.0},{"g":"4000","v":21.3,"j":-0.6},
{"g":"4000","v":21.0,"j":-0.9},{"g":"4000","v":20.8,"j":-0.17},{"g":"4000","v":20.2,"j":0.1},{"g":"4000","v":19.9,"j":0.29},{"g":"4000","v":19.4,"j":0.33},{"g":"4000","v":19.1,"j":-0.19},{"g":"4000","v":18.6,"j":0.05},{"g":"4000","v":18.1,"j":-0.49},{"g":"4000","v":17.6,"j":0.18},{"g":"4000","v":17.4,"j":-0.45},
{"g":"4000","v":17.0,"j":-0.08},{"g":"4000","v":16.7,"j":-0.34},{"g":"4000","v":16.3,"j":-0.04},{"g":"4000","v":16.1,"j":-0.49},{"g":"4000","v":15.5,"j":0.36},{"g":"4000","v":15.2,"j":-0.34},{"g":"4000","v":15.0,"j":0.44},{"g":"4000","v":14.5,"j":-0.2},{"g":"4000","v":14.2,"j":0.25},{"g":"4000","v":12.9,"j":0.21},
{"g":"4000","v":11.5,"j":-0.1},{"g":"4000","v":10.0,"j":-0.08},{"g":"4000","v":9.6,"j":-0.75},{"g":"4000","v":8.9,"j":-0.45}
]},
"encoding":{
"x":{"field":"g","type":"nominal","sort":["1000","2000","4000"],"scale":{"paddingInner":0,"paddingOuter":0},
"axis":{"title":"Initial density in trees ha⁻¹","labelAngle":0,"labelFontSize":56,"labelColor":"#222","labelPadding":24,"ticks":false,"domainColor":"#555","domainWidth":2,
"titleFontSize":58,"titleFontWeight":"normal","titleColor":"#222","titleAlign":"right","titleBaseline":"alphabetic","titleX":1524,"titleY":136}}
},
"layer":[
{"data":{"name":"box"},"mark":{"type":"rule","color":"#cfcfcf","strokeWidth":1.5},
 "encoding":{"y":{"field":"wlo","type":"quantitative","scale":{"domain":[0,70],"nice":false},
  "axis":{"title":"Tensile strength fₜ,₀ in MPa","values":[0,10,30,50],"grid":false,"labelFontSize":54,"labelColor":"#333","labelPadding":8,"tickSize":21,"tickWidth":2,"tickColor":"#555","domainColor":"#555","domainWidth":2,
  "titleAngle":0,"titleAlign":"left","titleBaseline":"alphabetic","titleX":3,"titleY":-60,"titleFontSize":54,"titleFontWeight":"normal","titleColor":"#222"}},
  "y2":{"field":"whi"}}},
{"data":{"name":"box"},"mark":{"type":"tick","color":"#cfcfcf","size":56,"thickness":2,"opacity":1},"encoding":{"y":{"field":"wlo","type":"quantitative"}}},
{"data":{"name":"box"},"mark":{"type":"tick","color":"#cfcfcf","size":56,"thickness":2,"opacity":1},"encoding":{"y":{"field":"whi","type":"quantitative"}}},
{"data":{"name":"box"},"mark":{"type":"bar","width":102,"fillOpacity":0,"stroke":"#333","strokeWidth":2},"encoding":{"y":{"field":"q1","type":"quantitative"},"y2":{"field":"q3"}}},
{"data":{"name":"pts"},"mark":{"type":"circle","size":22,"color":"#2e2e2e","opacity":1},
 "encoding":{"y":{"field":"v","type":"quantitative"},"xOffset":{"field":"j","type":"quantitative","scale":{"domain":[-1,1],"range":[208.7,298.7]}}}},
{"data":{"name":"box"},"mark":{"type":"tick","color":"#111","size":102,"thickness":4,"opacity":1},"encoding":{"y":{"field":"med","type":"quantitative"}}},
{"data":{"name":"est"},"mark":{"type":"circle","size":150,"color":"#000","opacity":1},"encoding":{"y":{"field":"rank","type":"quantitative"}}},
{"data":{"name":"est"},"mark":{"type":"circle","size":220,"color":"#e0101e","opacity":1},"encoding":{"y":{"field":"par","type":"quantitative"}}},
{"data":{"name":"grp"},"mark":{"type":"text","fontSize":42,"color":"#222","baseline":"alphabetic"},"encoding":{"y":{"datum":64.2},"text":{"field":"l"}}},
{"data":{"name":"grp"},"transform":[{"filter":"datum.g !== '4000'"}],"mark":{"type":"text","text":"N","fontSize":44,"color":"#222","baseline":"alphabetic","align":"right","dx":-69},"encoding":{"y":{"datum":54.2}}},
{"data":{"name":"grp"},"transform":[{"filter":"datum.g !== '4000'"}],"mark":{"type":"text","text":"Board","fontSize":31,"color":"#222","baseline":"alphabetic","align":"right","dx":14,"dy":9},"encoding":{"y":{"datum":54.2}}},
{"data":{"name":"grp"},"transform":[{"filter":"datum.g !== '4000'"}],"mark":{"type":"text","fontSize":44,"color":"#222","baseline":"alphabetic","align":"left","dx":14},"encoding":{"y":{"datum":54.2},"text":{"field":"n"}}},
{"data":{"name":"grp"},"transform":[{"filter":"datum.g === '4000'"}],"mark":{"type":"text","text":"N","fontSize":44,"color":"#222","baseline":"alphabetic","align":"right","dx":-55},"encoding":{"y":{"datum":54.2}}},
{"data":{"name":"grp"},"transform":[{"filter":"datum.g === '4000'"}],"mark":{"type":"text","text":"Board","fontSize":31,"color":"#222","baseline":"alphabetic","align":"right","dx":28,"dy":9},"encoding":{"y":{"datum":54.2}}},
{"data":{"name":"grp"},"transform":[{"filter":"datum.g === '4000'"}],"mark":{"type":"text","fontSize":44,"color":"#222","baseline":"alphabetic","align":"left","dx":28},"encoding":{"y":{"datum":54.2},"text":{"field":"n"}}},
{"data":{"name":"ann"},"transform":[{"filter":"(datum.stat === 'mean' || datum.stat === 'parametric') && datum.t !== '(parametric)'"}],
 "mark":{"type":"text","fontSize":35,"align":"right","baseline":"middle","dx":-72},
 "encoding":{"y":{"field":"v","type":"quantitative"},"text":{"field":"t"},"color":{"field":"stat","type":"nominal","scale":{"domain":["mean","median","parametric","ranking"],"range":["#222","#222","#e8323c","#222"]},"legend":null}}},
{"data":{"name":"ann"},"transform":[{"filter":"datum.stat === 'median' || datum.stat === 'ranking'"}],
 "mark":{"type":"text","fontSize":35,"align":"left","baseline":"middle","dx":67},
 "encoding":{"y":{"field":"v","type":"quantitative"},"text":{"field":"t"},"color":{"field":"stat","type":"nominal","legend":null}}},
{"data":{"name":"ann"},"transform":[{"filter":"datum.t === '(parametric)'"}],
 "mark":{"type":"text","fontSize":35,"align":"center","baseline":"middle","dx":-142},
 "encoding":{"y":{"field":"v","type":"quantitative"},"text":{"field":"t"},"color":{"field":"stat","type":"nominal","legend":null}}}
]
}
